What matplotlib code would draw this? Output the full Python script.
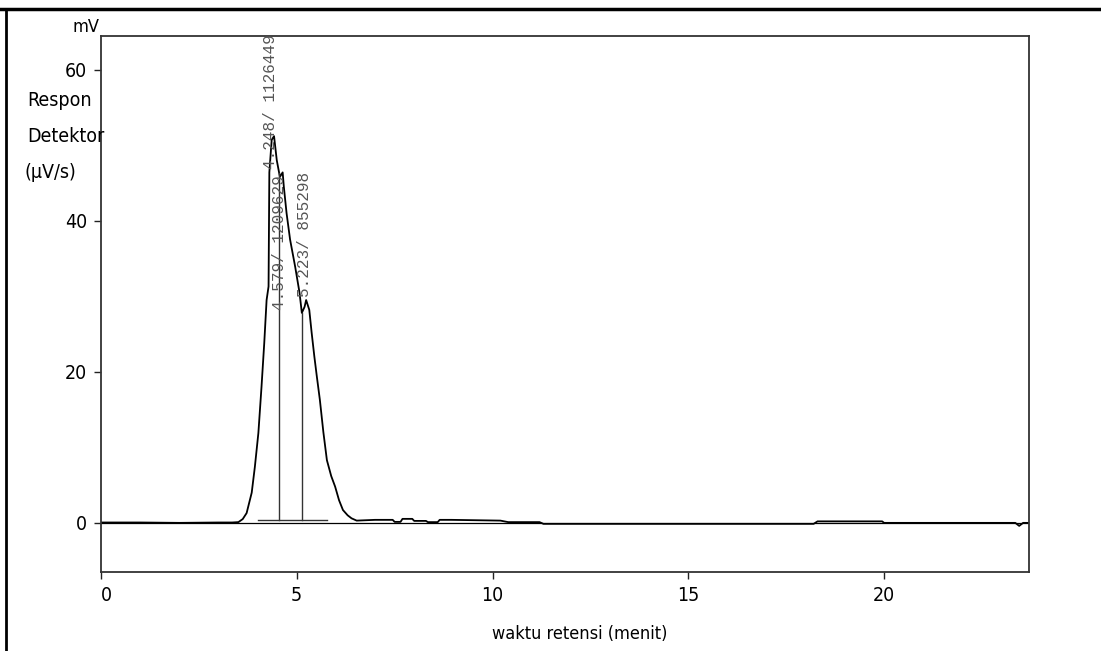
import numpy as np
import matplotlib
matplotlib.use('Agg')
import matplotlib.pyplot as plt
from matplotlib.lines import Line2D
from matplotlib import font_manager

# chromatogram trace (retention time in min, response in mV)
t = [0.0, 1.0, 2.0, 3.0, 3.35, 3.51, 3.62, 3.72, 3.85, 3.93, 4.02, 4.10, 4.17,
     4.23, 4.28, 4.30, 4.36, 4.42, 4.49, 4.57, 4.64, 4.67, 4.74, 4.83, 4.96,
     5.07, 5.13, 5.20, 5.24, 5.32, 5.38, 5.45, 5.51, 5.59, 5.68, 5.77, 5.88,
     5.98, 6.08, 6.18, 6.30, 6.40, 6.53, 7.0, 7.45, 7.50, 7.65, 7.70, 7.95,
     8.00, 8.30, 8.35, 8.60, 8.65, 8.95, 10.2, 10.4, 11.2, 11.3, 18.2, 18.3,
     19.95, 20.0, 23.35, 23.45, 23.55, 23.7]
mv = [0.05, 0.05, 0.0, 0.05, 0.05, 0.1, 0.5, 1.3, 4.0, 7.4, 11.9, 18.0, 23.8,
      29.5, 31.3, 46.4, 50.7, 51.2, 48.0, 45.8, 46.4, 44.5, 41.0, 37.5, 33.9,
      30.5, 27.8, 28.6, 29.5, 28.2, 25.2, 22.0, 19.5, 16.3, 12.0, 8.3, 6.2,
      4.8, 3.0, 1.7, 1.0, 0.6, 0.3, 0.4, 0.4, 0.13, 0.13, 0.53, 0.53,
      0.26, 0.26, 0.1, 0.1, 0.4, 0.4, 0.3, 0.1, 0.1, -0.13, -0.13, 0.2,
      0.2, 0.0, 0.0, -0.4, 0.0, 0.0]

# integration baseline and peak drop lines
base_t = [4.0, 5.77]
base_mv = [0.35, 0.35]
drop_t = [4.55, 5.13]

# peak labels: "retention time/ area"
label_t = [4.32, 4.55, 5.20]
label_mv = [46.8, 28.2, 29.9]
labels = ['4.248/ 1126449', '4.579/ 1209629', '5.223/ 855298']

narrow = font_manager.FontProperties(family='DejaVu Sans', stretch='condensed', size=13)
narrow_tick = font_manager.FontProperties(family='DejaVu Sans', stretch='condensed', size=14)
narrow_big = font_manager.FontProperties(family='DejaVu Sans', stretch='condensed', size=14)

fig = plt.figure(figsize=(11.01, 6.51), dpi=100)
ax = fig.add_axes([0.0917, 0.1214, 0.8429, 0.8238])

ax.axhline(0, color='black', lw=0.9)
ax.plot(t, mv, color='black', lw=1.3)
ax.plot(base_t, base_mv, color='#333333', lw=1.0)
for d in drop_t:
    ax.plot([d, d], [base_mv[0], np.interp(d, t, mv)], color='#333333', lw=1.0)

for x, y, s in zip(label_t, label_mv, labels):
    ax.text(x, y, s, rotation=90, ha='center', va='bottom', color='#555555',
            family=['Liberation Mono', 'DejaVu Sans Mono'], fontsize=11.5)

ax.set_xlim(0, 23.7)
ax.set_ylim(-6.5, 64.5)
ax.set_xticks([0, 5, 10, 15, 20])
ax.set_yticks([0, 20, 40, 60])
ax.tick_params(direction='out', length=5, width=1.0, color='#222222', pad=5)
for lab in ax.get_xticklabels() + ax.get_yticklabels():
    lab.set_fontproperties(narrow_tick)
ax.get_xticklabels()[0].set_ha('left')
for s in ax.spines.values():
    s.set_color('#333333')
    s.set_linewidth(1.3)

fig.text(86 / 1101, 1 - 27 / 651, 'mV', fontproperties=narrow,
         ha='center', va='center')
fig.text(27 / 1101, 1 - 100 / 651, 'Respon', fontproperties=narrow_big,
         ha='left', va='center')
fig.text(27 / 1101, 1 - 137 / 651, 'Detektor', fontproperties=narrow_big,
         ha='left', va='center')
fig.text(25 / 1101, 1 - 172 / 651, '(µV/s)', fontproperties=narrow_big,
         ha='left', va='center')
fig.text(580 / 1101, 1 - 634 / 651, 'waktu retensi (menit)', fontproperties=narrow,
         ha='center', va='center')

# page frame lines
fig.add_artist(Line2D([0, 1], [1 - 9 / 651, 1 - 9 / 651], color='black', lw=2.5))
fig.add_artist(Line2D([6 / 1101, 6 / 1101], [0, 1 - 9 / 651], color='black', lw=2.0))

fig.savefig('out.png', dpi=100)
